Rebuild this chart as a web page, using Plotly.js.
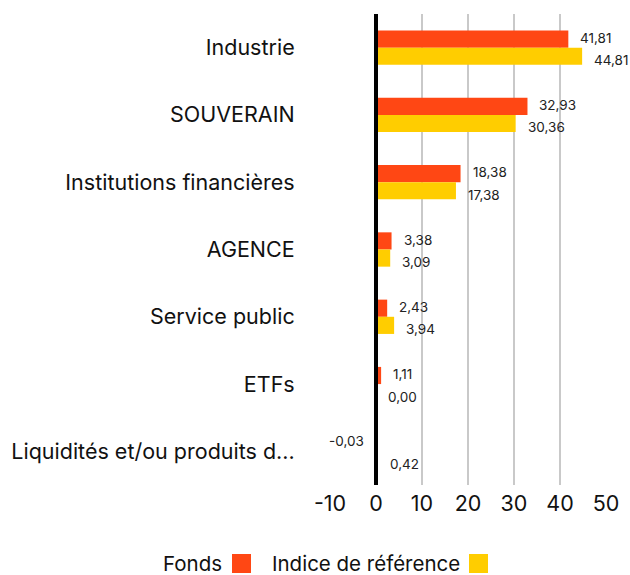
<!DOCTYPE html>
<html><head><meta charset="utf-8">
<script src="https://cdn.plot.ly/plotly-3.0.1.min.js"></script>
<style>html,body{margin:0;padding:0;background:#fff}#chart{width:630px;height:575px}</style>
</head><body><div id="chart"></div>
<script>
const categories = ["Industrie","SOUVERAIN","Institutions financières","AGENCE","Service public","ETFs","Liquidités et/ou produits d..."];
const fondsValues = [41.81, 32.93, 18.38, 3.38, 2.43, 1.11, -0.03];
const indiceValues = [44.81, 30.36, 17.38, 3.09, 3.94, 0.00, 0.42];
const seriesNames = ["Fonds", "Indice de référence"];
const tickValues = [-10, 0, 10, 20, 30, 40, 50];
const tickLabels = ["-10", "0", "10", "20", "30", "40", "50"];

const colors = ["#FF4714", "#FFCD00"];
const FONT = "Inter, 'Open Sans', sans-serif";
function fmt(v){ return v.toFixed(2).replace(".", ","); }

const traces = [fondsValues, indiceValues].map((vals, i) => ({
  type: "bar", orientation: "h", name: seriesNames[i],
  x: vals, y: categories,
  marker: {color: colors[i]},
  hoverinfo: "x+name", showlegend: false
}));

// value labels, built from the data arrays
const labelShifts = [10, -12.5];
const valueLabels = [];
[fondsValues, indiceValues].forEach((vals, s) => {
  vals.forEach((v, i) => {
    valueLabels.push({
      xref: "x", yref: "y", x: v, y: categories[i],
      text: fmt(v), showarrow: false,
      xanchor: v < 0 ? "right" : "left", yanchor: "middle",
      xshift: v < 0 ? -10 : 10, yshift: labelShifts[s],
      font: {family: FONT, size: 13.5, color: "#222"}
    });
  });
});

const py = p => (485 - p) / 471;
const px = p => (p - 330) / 276;

const layout = {
  width: 630, height: 575,
  margin: {l: 330, r: 24, t: 14, b: 90},
  paper_bgcolor: "#fff", plot_bgcolor: "#fff",
  font: {family: FONT, color: "#111"},
  barmode: "group", bargap: 0.49, bargroupgap: 0,
  showlegend: false,
  xaxis: {
    range: [-10, 50], tickvals: tickValues, ticktext: tickLabels,
    showgrid: true, gridcolor: "#c9c9c9", gridwidth: 2.5,
    zeroline: false, showline: false, ticks: "",
    ticklabelstandoff: 3,
    tickfont: {family: FONT, size: 21.5, color: "#111"}, fixedrange: true
  },
  yaxis: {
    autorange: "reversed", showgrid: false, zeroline: false,
    showline: true, linecolor: "#fff", linewidth: 4, ticks: "",
    ticklabelstandoff: 27,
    tickfont: {family: FONT, size: 21.5, color: "#111"}, fixedrange: true
  },
  shapes: [
    {type: "line", xref: "x", yref: "paper", x0: 0, x1: 0, y0: 0, y1: 1, layer: "above",
     line: {color: "#000", width: 4}},
    {type: "rect", xref: "paper", yref: "paper", x0: px(232), x1: px(251), y0: py(554), y1: py(573), fillcolor: colors[0], line: {width: 0}},
    {type: "rect", xref: "paper", yref: "paper", x0: px(469), x1: px(488), y0: py(554), y1: py(573), fillcolor: colors[1], line: {width: 0}}
  ],
  annotations: valueLabels.concat([
    {xref: "paper", yref: "paper", x: px(224), y: py(563), xanchor: "right", yanchor: "middle",
     text: seriesNames[0], showarrow: false, font: {family: FONT, size: 20.5, color: "#111"}},
    {xref: "paper", yref: "paper", x: px(462), y: py(563), xanchor: "right", yanchor: "middle",
     text: seriesNames[1], showarrow: false, font: {family: FONT, size: 20.5, color: "#111"}}
  ])
};
Plotly.newPlot("chart", traces, layout, {displayModeBar: false, staticPlot: true});
</script>
</body></html>
